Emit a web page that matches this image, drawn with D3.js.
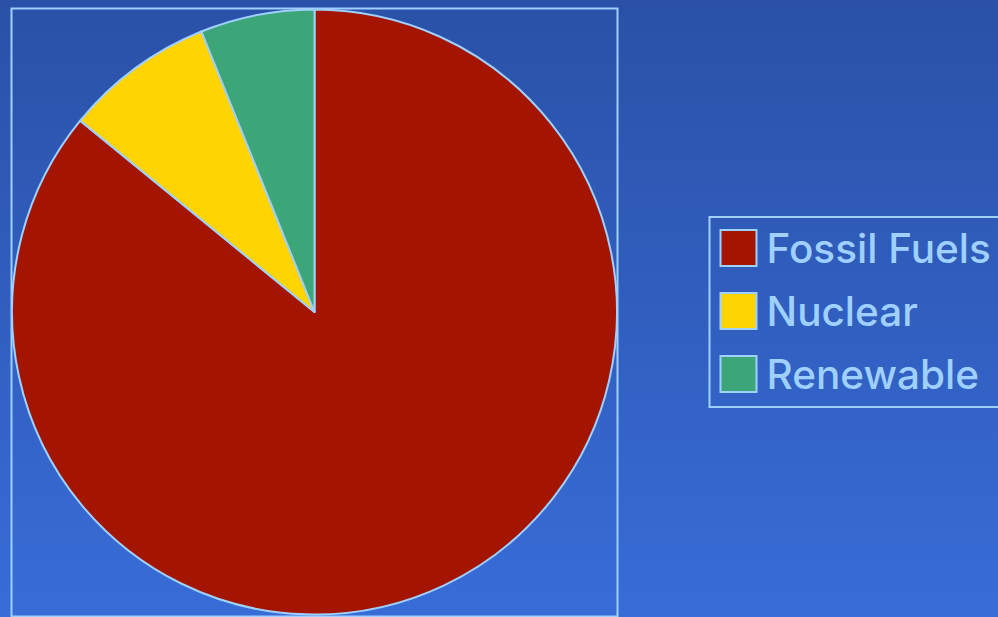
<!DOCTYPE html>
<html>
<head>
<meta charset="utf-8">
<script src="https://cdn.jsdelivr.net/npm/d3@7"></script>
<style>
  html, body { margin: 0; padding: 0; }
  body { width: 998px; height: 617px; overflow: hidden; }
</style>
</head>
<body>
<div id="chart"></div>
<script>
var categories = ["Fossil Fuels", "Nuclear", "Renewable"];
var shares = [85.9, 8.0, 6.1];
var colors = ["#a31500", "#ffd400", "#3da679"];

var width = 998, height = 617;
var stroke = "#9fd0ff";

var svg = d3.select("#chart")
  .append("svg")
    .attr("width", width)
    .attr("height", height);

var defs = svg.append("defs");
var grad = defs.append("linearGradient")
    .attr("id", "bg")
    .attr("x1", 0).attr("y1", 0)
    .attr("x2", 0).attr("y2", 1);
grad.append("stop").attr("offset", "0%").attr("stop-color", "#2a51a7");
grad.append("stop").attr("offset", "100%").attr("stop-color", "#386cd7");

svg.append("rect")
    .attr("width", width)
    .attr("height", height)
    .attr("fill", "url(#bg)");

// pie area
var box = {x: 11.5, y: 8.5, size: 606};
var radius = box.size / 2;

svg.append("rect")
    .attr("x", box.x)
    .attr("y", box.y)
    .attr("width", box.size)
    .attr("height", box.size + 2)
    .attr("fill", "none")
    .attr("stroke", stroke)
    .attr("stroke-width", 2);

var pie = d3.pie().sort(null).value(function(d){ return d; });
var arc = d3.arc().innerRadius(0).outerRadius(radius - 0.5);

var g = svg.append("g")
    .attr("transform", "translate(" + (box.x + radius) + "," + (box.y + radius + 0.5) + ")");

g.selectAll("path")
  .data(pie(shares))
  .enter().append("path")
    .attr("d", arc)
    .attr("fill", function(d, i){ return colors[i]; })
    .attr("stroke", stroke)
    .attr("stroke-width", 2)
    .attr("stroke-linejoin", "round");

// legend
var legend = svg.append("g").attr("transform", "translate(709.5,217)");
legend.append("rect")
    .attr("width", 300)
    .attr("height", 190)
    .attr("fill", "none")
    .attr("stroke", stroke)
    .attr("stroke-width", 2);

var y = d3.scalePoint().domain(categories).range([31, 157]);

var item = legend.selectAll("g.item")
  .data(categories)
  .enter().append("g")
    .attr("class", "item")
    .attr("transform", function(d){ return "translate(0," + y(d) + ")"; });

item.append("rect")
    .attr("x", 11)
    .attr("y", -18)
    .attr("width", 36)
    .attr("height", 36)
    .attr("fill", function(d, i){ return colors[i]; })
    .attr("stroke", stroke)
    .attr("stroke-width", 2);

item.append("text")
    .attr("x", 57)
    .attr("y", 15)
    .attr("fill", stroke)
    .style("font-family", "Inter, sans-serif")
    .style("font-weight", 500)
    .style("font-size", "40.5px")
    .text(function(d){ return d; });
</script>
</body>
</html>
